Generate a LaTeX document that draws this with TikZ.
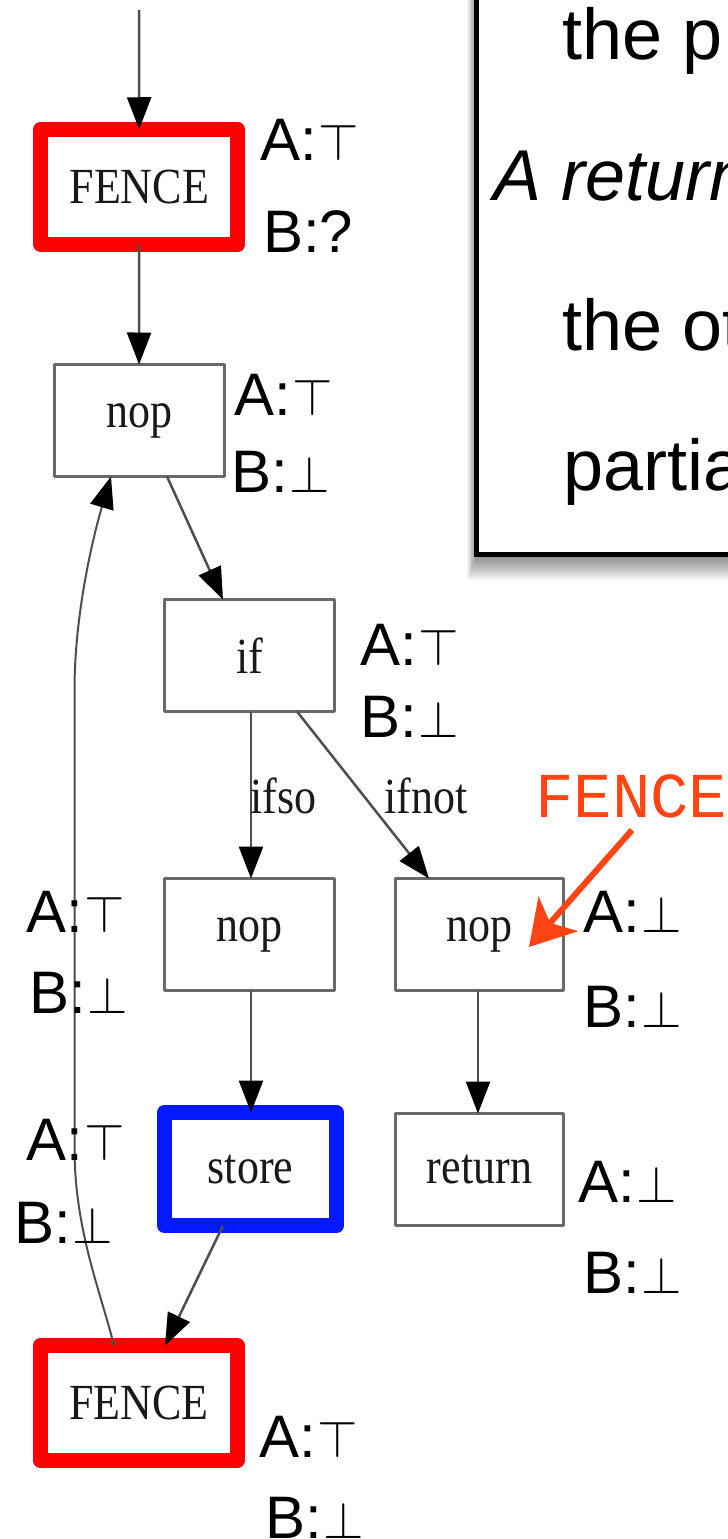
\documentclass[tikz,border=0pt]{standalone}
\usepackage{graphicx}
\usepackage{fontspec}
\setmainfont{Liberation Sans}
\newfontfamily\tms{Liberation Serif}
\newfontfamily\mono{Liberation Mono}
\usetikzlibrary{arrows.meta,calc}
\definecolor{gvred}{RGB}{255,0,0}
\definecolor{gvblue}{RGB}{5,25,255}
\definecolor{gvgray}{RGB}{105,105,105}
\definecolor{edgegray}{RGB}{78,78,78}
\definecolor{annot}{RGB}{255,68,20}
\newcommand\tp{\kern2pt\scalebox{5.2}{\fontsize{10}{12}\selectfont$\top$}}
\newcommand\bt{\kern2pt\scalebox{5.2}{\fontsize{10}{12}\selectfont$\bot$}}
\newcommand\gv[1]{\scalebox{1}[1.15]{#1}}
\tikzset{
  gvbox/.style={draw=gvgray, line width=3pt, minimum width=170pt, minimum height=112pt,
    inner sep=0pt, outer sep=0pt, line join=round, text=black!90,
    font=\tms\fontsize{44}{50}\selectfont},
  fencebox/.style={gvbox, draw=gvred, line width=15pt, minimum width=197pt, minimum height=115pt},
  storebox/.style={gvbox, draw=gvblue, line width=15pt, minimum width=172pt, minimum height=113pt},
  edge/.style={draw=edgegray, line width=2.5pt, -{Triangle[length=32pt,width=24pt,color=black]}},
  elab/.style={anchor=base west, inner sep=0pt, text=black!90, font=\tms\fontsize{44}{50}\selectfont},
  lab/.style={anchor=base west, inner sep=0pt, font=\fontsize{60}{70}\selectfont},
  ptext/.style={anchor=base west, inner sep=0pt, font=\fontsize{72}{80}\selectfont},
}
\begin{document}
\begin{tikzpicture}[x=1pt,y=-1pt]
\useasboundingbox (0,0) rectangle (728,1539);
\clip (0,0) rectangle (728,1539);
\fill[white] (0,0) rectangle (728,1539);

% ---- right text panel with shadow ----
\foreach \k in {1,...,12}{
  \fill[black,opacity=0.045] (477-0.8*\k,-20) rectangle (760,556+2*\k);
}
\draw[line width=5pt, fill=white] (476.5,-20) rectangle (760,554.5);
\node[ptext] (t1) at (562,59) {the p};
\node[ptext, font=\fontsize{72}{80}\selectfont\itshape] (t2) at (493,200) {A return};
\node[ptext] (t3) at (562,350) {the ot};
\node[ptext] (t4) at (563,490) {partia};

% ---- graph nodes ----
\node[fencebox] (f1) at (139.25,186.75) {\gv{FENCE}};
\node[gvbox] (n1) at (139,420.5) {\gv{nop}};
\node[gvbox] (if) at (249.5,655.5) {\gv{if}};
\node[gvbox] (n2) at (249.5,934.5) {\gv{nop}};
\node[gvbox, minimum width=168pt] (n3) at (479.5,934.5) {\gv{nop}};
\node[storebox] (st) at (250.5,1169) {\gv{store}};
\node[gvbox, minimum width=168pt] (ret) at (479.5,1169.5) {\gv{return}};
\node[fencebox] (f2) at (138.75,1403) {\gv{FENCE}};

% ---- edges ----
\coordinate (start) at (139,10);
\draw[edge] (start) -- (f1);
\draw[edge] (f1) -- (n1);
\draw[edge] ($(n1.south)+(28,0)$) -- ($(if.north)+(-26.5,0)$);
\draw[edge] ($(if.south)+(1.5,0)$) -- ($(n2.north)+(1.5,0)$);
\draw[edge] ($(if.south)+(47.5,0)$) -- ($(n3.north)+(-50.5,0)$);
\draw[edge] ($(n2.south)+(1.5,0)$) -- ($(st.north)+(0.5,0)$);
\draw[edge] ($(n3.south)+(-1.5,0)$) -- ($(ret.north)+(-1.5,0)$);
\draw[edge] ($(st.south)+(-27.5,0)$) -- ($(f2.north)+(26.25,0)$);
\draw[edge, line width=2pt] ($(f2.north)+(-24.75,0)$) .. controls (100,1290) and (75,1230) .. (74.5,1150)
   -- (74.5,690) .. controls (74.5,610) and (95,530) .. ($(n1.south)+(-28,0)$);

\node[elab] (lso) at (250,813) {\gv{ifso}};
\node[elab] (lnot) at (384,813) {\gv{ifnot}};

% ---- state labels ----
\node[lab] (f1a) at (260,160) {A:\tp};
\node[lab] (f1b) at (263,252) {B:?};
\node[lab] (n1a) at (234,415) {A:\tp};
\node[lab] (n1b) at (231,492) {B:\bt};
\node[lab] (ifa) at (360,665) {A:\tp};
\node[lab] (ifb) at (360,737) {B:\bt};
\node[lab] (n2a) at (26,932) {A:\tp};
\node[lab] (n2b) at (29,1013) {B:\bt};
\node[lab] (n3a) at (583,932) {A:\bt};
\node[lab] (n3b) at (583,1027) {B:\bt};
\node[lab] (sta) at (26,1160) {A:\tp};
\node[lab] (stb) at (14,1243) {B:\bt};
\node[lab] (reta) at (578,1202) {A:\bt};
\node[lab] (retb) at (583,1293) {B:\bt};
\node[lab] (f2a) at (259,1457) {A:\tp};
\node[lab] (f2b) at (265,1538) {B:\bt};

% ---- annotation ----
\node[anchor=base west, inner sep=0pt, text=annot, font=\mono\fontsize{64}{70}\selectfont] (fa) at (535,817) {FENCE};
\coordinate (fas) at (632,830);
\coordinate (fat) at (529,947);
\draw[annot, line width=6pt, -{Stealth[length=44pt,width=52pt,inset=12pt]}] (fas) -- (fat);
\end{tikzpicture}
\end{document}
